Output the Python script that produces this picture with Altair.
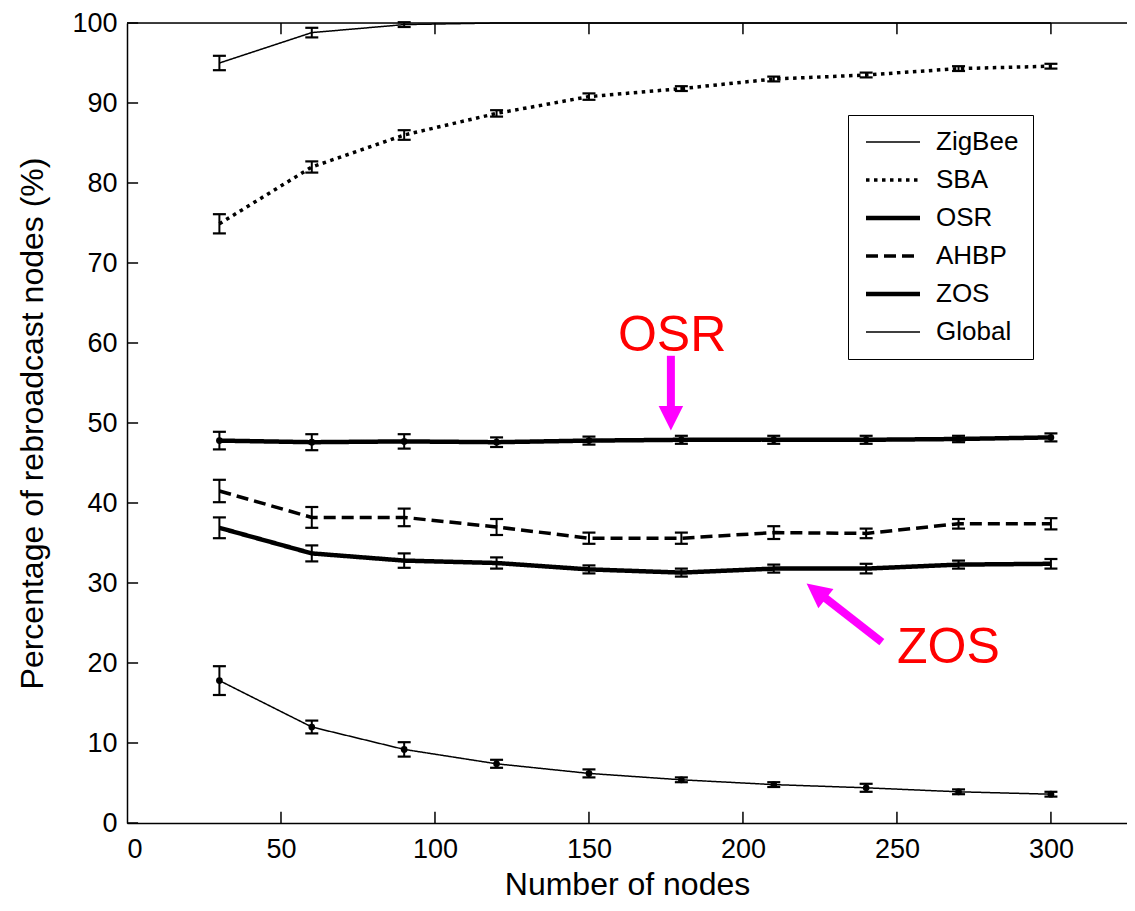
import altair as alt
import pandas as pd

# ---------------- data ----------------
nodes = [30, 60, 90, 120, 150, 180, 210, 240, 270, 300]
methods = ["ZigBee", "SBA", "OSR", "AHBP", "ZOS", "Global"]

zigbee = [95.0, 98.8, 99.8, 100.0, 100.0, 100.0, 100.0, 100.0, 100.0, 100.0]
zigbee_err = [0.9, 0.6, 0.3, 0.0, 0.0, 0.0, 0.0, 0.0, 0.0, 0.0]

sba = [74.9, 82.0, 86.0, 88.7, 90.8, 91.8, 93.0, 93.5, 94.3, 94.6]
sba_err = [1.2, 0.7, 0.6, 0.4, 0.4, 0.3, 0.3, 0.3, 0.3, 0.3]

osr = [47.8, 47.6, 47.7, 47.6, 47.8, 47.9, 47.9, 47.9, 48.0, 48.2]
osr_err = [1.1, 1.0, 0.9, 0.6, 0.5, 0.5, 0.5, 0.5, 0.4, 0.5]

ahbp = [41.5, 38.2, 38.2, 37.0, 35.6, 35.6, 36.3, 36.2, 37.4, 37.4]
ahbp_err = [1.4, 1.3, 1.1, 1.0, 0.7, 0.7, 0.8, 0.6, 0.6, 0.7]

zos = [36.9, 33.7, 32.8, 32.5, 31.7, 31.3, 31.8, 31.8, 32.3, 32.4]
zos_err = [1.3, 1.0, 0.9, 0.7, 0.5, 0.5, 0.5, 0.6, 0.5, 0.6]

glob = [17.8, 12.0, 9.2, 7.4, 6.2, 5.4, 4.8, 4.4, 3.9, 3.6]
glob_err = [1.8, 0.8, 0.9, 0.5, 0.5, 0.3, 0.3, 0.5, 0.3, 0.3]

x_ticks = [0, 50, 100, 150, 200, 250, 300]
y_ticks = [0, 10, 20, 30, 40, 50, 60, 70, 80, 90, 100]

# annotations
ann_text = ["OSR", "ZOS"]
ann_x = [177.0, 266.7]
ann_y = [59.0, 20.0]
arrow_tail_x = [176.6, 245.1]
arrow_tail_y = [58.4, 22.6]
arrow_head_x = [176.6, 223.8]
arrow_head_y = [50.6, 29.0]
arrow_angle = [0, 128]

# ---------------- tables ----------------
series = [zigbee, sba, osr, ahbp, zos, glob]
errors = [zigbee_err, sba_err, osr_err, ahbp_err, zos_err, glob_err]
rows = []
for m, vals, errs in zip(methods, series, errors):
    for n, v, e in zip(nodes, vals, errs):
        rows.append({"method": m, "nodes": n, "value": v, "err": e,
                     "lo": v - e, "hi": v + e})
df = pd.DataFrame(rows)

ann_df = pd.DataFrame({"text": ann_text, "x": ann_x, "y": ann_y})
arrow_df = pd.DataFrame({"tx": arrow_tail_x, "ty": arrow_tail_y,
                         "hx": arrow_head_x, "hy": arrow_head_y,
                         "ang": arrow_angle})

FONT = "Liberation Sans"
xscale = alt.Scale(domain=[0, 324.7], nice=False, zero=False)
yscale = alt.Scale(domain=[0, 100], nice=False, zero=False)

dash_range = [[1, 0], [3.5, 4.5], [1, 0], [12, 6], [1, 0], [1, 0]]
width_range = [1.5, 3.5, 4.5, 3.5, 4.5, 1.5]

x_axis = alt.Axis(values=x_ticks, ticks=False, grid=False, labelFontSize=27,
                  labelPadding=13, labelColor="black", domainColor="black",
                  domainWidth=1.5, titleFontSize=32, titleFontWeight="normal",
                  titleColor="black", titlePadding=7, labelFont=FONT,
                  titleFont=FONT)
y_axis = alt.Axis(values=y_ticks, ticks=False, grid=False, labelFontSize=27,
                  labelPadding=10, labelColor="black", domainColor="black",
                  domainWidth=1.5, titleFontSize=32, titleFontWeight="normal",
                  titleColor="black", titlePadding=22, labelFont=FONT,
                  titleFont=FONT)

legend = alt.Legend(orient="none", legendX=721, legendY=92, title=None,
                    symbolType="M-1,0L5,0", symbolSize=324,
                    symbolStrokeColor="black", labelFontSize=26,
                    labelFont=FONT, labelColor="black", labelOffset=48,
                    rowPadding=12, padding=14, strokeColor="black",
                    fillColor="white", labelLimit=300)

lines = alt.Chart(df).mark_line(color="black").encode(
    x=alt.X("nodes:Q", scale=xscale, axis=x_axis, title="Number of nodes"),
    y=alt.Y("value:Q", scale=yscale, axis=y_axis,
            title="Percentage of rebroadcast nodes (%)"),
    strokeDash=alt.StrokeDash("method:N",
                              scale=alt.Scale(domain=methods, range=dash_range),
                              legend=legend),
    strokeWidth=alt.StrokeWidth("method:N",
                                scale=alt.Scale(type="ordinal", domain=methods,
                                                range=width_range),
                                legend=legend),
)

err_df = alt.Chart(df).transform_filter("datum.err > 0")
err_rules = err_df.mark_rule(color="black", strokeWidth=2).encode(
    x="nodes:Q", y="lo:Q", y2="hi:Q")
err_caps = err_df.transform_fold(["lo", "hi"], as_=["k", "v"]).mark_tick(
    color="black", orient="horizontal", size=13, thickness=2.2, opacity=1
).encode(x="nodes:Q", y="v:Q")

dots = alt.Chart(df).transform_filter(
    "datum.method == 'OSR' || datum.method == 'Global'"
).mark_point(filled=True, color="black", size=45, opacity=1).encode(
    x="nodes:Q", y="value:Q")

# frame pieces and inward ticks
top_line = alt.Chart(pd.DataFrame({"a": [0]})).mark_rule(
    color="black", strokeWidth=1.5).encode(y=alt.datum(100))
xt = pd.DataFrame({"t": x_ticks[1:]})
yt = pd.DataFrame({"t": y_ticks})
bottom_ticks = alt.Chart(xt).mark_rule(color="black", strokeWidth=1.5).encode(
    x="t:Q", y=alt.datum(0), y2=alt.datum(1.4))
top_ticks = alt.Chart(xt).mark_rule(color="black", strokeWidth=1.5).encode(
    x="t:Q", y=alt.datum(100), y2=alt.datum(98.6))
left_ticks = alt.Chart(yt).mark_rule(color="black", strokeWidth=1.5).encode(
    y="t:Q", x=alt.datum(0), x2=alt.datum(3.6))

# annotations
ann = alt.Chart(ann_df).mark_text(color="#ff0000", fontSize=50, font=FONT,
                                  baseline="alphabetic", align="center").encode(
    x="x:Q", y="y:Q", text="text:N")
shafts = alt.Chart(arrow_df).mark_rule(color="#ff00ff", strokeWidth=8,
                                       strokeCap="butt").encode(
    x="tx:Q", y="ty:Q", x2="hx:Q", y2="hy:Q")
heads = alt.Chart(arrow_df).mark_point(
    shape="M-1,-1L1,-1L0,1Z", filled=True, color="#ff00ff", size=600,
    opacity=1, strokeWidth=0).encode(
    x="hx:Q", y="hy:Q", angle=alt.Angle("ang:Q", scale=None))

chart = alt.layer(
    top_line, bottom_ticks, top_ticks, left_ticks,
    err_rules, err_caps, lines, dots, shafts, heads, ann
).properties(
    width=1000, height=800,
    padding={"left": 119, "top": 15, "right": 0, "bottom": 80},
    autosize=alt.AutoSizeParams(type="none"),
).configure_view(stroke=None).configure(font=FONT)

chart.save("out.html", embed_options={"renderer": "svg", "actions": False})
